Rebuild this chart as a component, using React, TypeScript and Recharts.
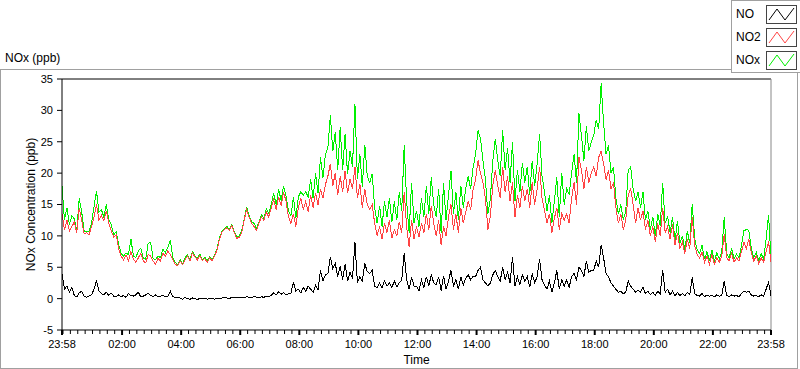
import React from 'react';
import { LineChart, Line, XAxis, YAxis, ReferenceLine } from 'recharts';

// minutes after the 23:58 start, one sample every 5 minutes
const timeTicks = [0, 122, 242, 362, 482, 602, 722, 842, 962, 1082, 1202, 1322, 1440];
const timeLabels = ['23:58', '02:00', '04:00', '06:00', '08:00', '10:00', '12:00', '14:00', '16:00', '18:00', '20:00', '22:00', '23:58'];
const yTicks = [-5, 0, 5, 10, 15, 20, 25, 30, 35];

const seriesNames = ['NO', 'NO2', 'NOx'];
const seriesColors = ['#000000', '#ff4444', '#00f000'];

const no = [
  4.0, 1.5, 2.0, 1.0, 1.8, 0.5, 0.3, 0.9, 1.2, 0.4, 0.2, 0.4,
  0.6, 1.5, 2.9, 1.2, 0.8, 0.6, 1.0, 0.5, 0.9, 0.4, 0.3, 0.6,
  0.3, 0.5, 0.2, 0.8, 0.5, 0.4, 0.6, 1.0, 0.3, 0.4, 0.6, 0.9,
  0.5, 0.3, 0.6, 0.3, 0.4, 0.5, 0.3, 0.4, 1.2, 0.3, 0.2, 0.1,
  0.1, -0.1, 0.2, 0.0, -0.1, 0.1, 0.0, -0.2, 0.1, 0.0, 0.1, -0.1,
  0.0, 0.1, -0.1, 0.1, 0.0, 0.1, 0.2, 0.1, 0.0, 0.2, 0.1, 0.1,
  0.1, 0.2, 0.1, 0.3, 0.2, 0.1, 0.4, 0.2, 0.1, 0.3, 0.2, 0.4,
  0.3, 0.5, 0.9, 0.6, 1.1, 0.7, 1.0, 0.6, 0.8, 0.9, 2.6, 1.2,
  1.5, 0.9, 1.8, 1.2, 2.0, 1.5, 1.0, 2.1, 1.4, 4.5, 2.8, 3.8,
  4.0, 6.6, 4.8, 5.6, 3.5, 5.2, 3.0, 5.5, 2.8, 4.2, 3.2, 9.0,
  2.5, 3.5, 2.8, 5.6, 4.3, 4.0, 4.5, 2.0, 1.7, 2.5, 1.7, 2.8,
  2.0, 2.5, 1.8, 2.8, 1.9, 2.5, 3.0, 7.2, 3.0, 1.5, 3.4, 2.0,
  2.0, 1.2, 3.0, 1.8, 3.5, 2.0, 3.8, 2.5, 2.2, 3.5, 1.3, 3.6,
  1.5, 2.8, 4.5, 2.0, 3.0, 1.5, 3.5, 2.2, 3.2, 3.8, 3.0, 3.6,
  3.5, 4.5, 5.0, 3.0, 2.5, 2.0, 2.5, 3.8, 4.5, 3.5, 2.8, 5.0,
  3.0, 4.2, 2.5, 6.6, 2.0, 3.5, 2.2, 3.8, 2.8, 3.5, 1.8, 4.0,
  2.5, 3.5, 6.3, 3.0, 2.2, 1.5, 2.8, 1.0, 2.5, 4.5, 1.5, 3.0,
  2.0, 3.0, 1.8, 3.5, 4.0, 3.0, 5.0, 4.5, 3.5, 6.0, 4.2, 4.5,
  4.5, 6.0, 5.0, 8.6, 6.5, 4.0, 3.5, 2.5, 2.0, 1.5, 1.0, 1.2,
  0.8, 1.0, 2.8, 2.0, 1.5, 1.0, 1.4, 1.0, 1.8, 0.8, 1.2, 0.6,
  1.0, 0.5, 1.2, 0.8, 4.6, 1.0, 1.5, 0.6, 1.2, 0.4, 1.0, 0.5,
  0.8, 0.4, 1.0, 0.6, 3.4, 0.8, 0.5, 0.4, 0.8, 0.3, 0.6, 0.4,
  0.5, 0.3, 0.6, 0.4, 0.5, 2.8, 0.5, 0.3, 0.6, 0.4, 0.5, 0.3,
  0.8, 1.2, 1.0, 1.2, 0.6, 0.4, 0.5, 0.3, 0.6, 0.4, 1.5, 2.6, 0.5,
];

const no2 = [
  13.5, 11.0, 12.5, 10.8, 11.5, 12.2, 10.5, 14.5, 12.5, 10.3, 10.5, 10.2,
  11.5, 13.0, 15.0, 12.5, 13.3, 12.4, 14.0, 12.0, 10.8, 9.8, 10.2, 8.0,
  6.8, 6.2, 7.0, 6.0, 7.5, 6.3, 5.8, 6.5, 7.2, 6.0, 5.7, 7.0,
  6.8, 6.0, 5.5, 6.4, 6.0, 7.2, 6.8, 7.6, 7.0, 6.2, 5.5, 5.2,
  6.0, 5.4, 6.2, 6.8, 6.0, 7.3, 6.6, 6.2, 6.9, 6.0, 6.4, 5.8,
  6.5, 6.0, 6.8, 7.8, 9.5, 10.6, 11.0, 11.3, 10.9, 11.6, 10.5, 9.6,
  9.8, 10.5, 12.5, 14.2, 13.0, 12.0, 11.5, 10.9, 12.0, 13.0, 12.5, 13.8,
  13.0, 14.5, 15.8, 14.2, 16.2, 14.8, 17.0, 15.5, 13.0, 12.0, 13.5, 11.5,
  14.5, 16.0, 14.2, 15.5, 13.8, 16.5, 14.5, 16.8, 15.0, 17.5, 16.0, 18.2,
  19.5, 21.5, 18.0, 20.0, 16.5, 19.5, 17.0, 20.4, 16.8, 19.0, 17.5, 21.0,
  16.0, 18.3, 14.5, 17.5, 15.0, 14.2, 15.0, 12.0, 10.0, 11.5, 9.5, 12.0,
  10.5, 12.5, 9.6, 11.0, 10.0, 12.2, 10.5, 17.0, 11.5, 8.2, 12.5, 9.5,
  11.5, 9.8, 12.0, 10.5, 13.5, 11.0, 14.8, 12.0, 10.0, 12.5, 8.5, 11.5,
  10.0, 13.0, 15.0, 11.0, 13.5, 10.5, 14.5, 12.0, 13.8, 15.5, 14.2, 17.4,
  19.0, 22.0, 20.0, 18.5, 16.0, 11.0, 13.2, 18.0, 20.5, 18.0, 16.0, 21.0,
  17.0, 19.5, 15.5, 18.5, 13.0, 16.5, 14.5, 18.0, 15.5, 17.5, 14.5, 18.5,
  15.0, 17.5, 21.0, 16.0, 14.0, 12.0, 13.5, 10.5, 12.8, 14.5, 11.0, 13.5,
  12.5, 13.5, 12.0, 16.0, 18.5, 15.0, 22.5, 20.5, 17.5, 21.0, 18.5, 20.0,
  21.0, 19.5, 22.5, 23.5, 21.5, 19.0, 20.5, 17.5, 18.5, 14.5, 12.0, 13.5,
  11.0, 12.5, 16.5, 17.5, 15.0, 12.0, 14.5, 12.5, 14.0, 11.0, 12.5, 10.0,
  11.5, 9.0, 12.0, 10.0, 14.5, 10.5, 11.5, 9.5, 11.8, 8.5, 10.5, 8.0,
  9.0, 7.2, 9.5, 8.0, 13.0, 8.5, 7.0, 6.5, 7.4, 5.8, 6.8, 5.5,
  7.0, 5.5, 6.5, 5.8, 6.8, 10.3, 6.5, 6.0, 7.2, 5.8, 6.5, 6.0,
  7.5, 9.0, 8.0, 9.5, 7.3, 6.0, 6.8, 5.6, 6.5, 5.8, 7.5, 9.1, 5.8,
];

const nox = [
  18.0, 12.5, 14.5, 11.8, 13.2, 12.7, 10.8, 16.0, 13.8, 10.7, 10.7, 10.6,
  12.1, 14.6, 17.2, 13.8, 14.2, 13.0, 15.0, 12.6, 11.8, 10.2, 10.6, 8.7,
  7.2, 6.8, 7.3, 7.0, 9.5, 6.8, 6.5, 7.6, 8.0, 6.5, 6.3, 8.8,
  9.0, 6.4, 6.2, 6.8, 6.5, 7.9, 7.3, 8.2, 9.3, 6.6, 5.8, 5.4,
  6.2, 5.5, 6.5, 7.0, 6.2, 7.5, 6.8, 6.4, 7.1, 6.2, 6.6, 6.0,
  6.7, 6.2, 7.0, 8.0, 9.7, 10.8, 11.2, 11.5, 11.0, 11.8, 10.6, 9.8,
  10.0, 10.8, 12.7, 14.6, 13.3, 12.2, 12.0, 11.2, 12.2, 13.4, 12.8, 14.3,
  13.5, 15.1, 16.8, 14.9, 17.5, 15.6, 18.0, 16.3, 14.0, 13.2, 16.2, 12.8,
  16.2, 17.0, 16.5, 17.0, 16.2, 19.0, 16.0, 20.0, 16.8, 22.5, 19.2, 23.0,
  24.0, 29.2, 23.5, 26.5, 20.5, 27.3, 20.5, 26.2, 19.8, 23.5, 21.0, 31.0,
  19.0, 23.0, 17.8, 24.5, 19.5, 18.5, 19.9, 14.5, 12.0, 14.8, 11.5, 15.5,
  13.0, 16.0, 12.2, 15.5, 12.5, 17.0, 14.0, 24.4, 15.5, 10.5, 18.5, 12.0,
  14.0, 11.5, 16.0, 13.0, 18.0, 13.5, 19.3, 15.0, 13.0, 17.5, 10.5, 18.4,
  12.5, 16.5, 20.4, 13.5, 17.0, 12.5, 18.0, 14.5, 17.5, 19.5, 17.5, 20.9,
  23.0, 26.8, 25.5, 22.0, 19.0, 13.5, 15.9, 22.0, 25.5, 22.0, 19.5, 26.8,
  20.5, 24.0, 18.5, 25.0, 15.5, 20.5, 17.0, 21.6, 18.5, 21.0, 16.5, 22.0,
  18.0, 21.5, 26.3, 19.5, 17.0, 14.0, 16.5, 12.0, 15.5, 19.3, 13.0, 20.0,
  15.0, 17.5, 16.6, 20.0, 23.0, 18.5, 29.5, 26.0, 22.0, 27.5, 23.5, 25.0,
  26.0, 28.5, 27.0, 34.3, 28.0, 23.0, 24.5, 20.0, 21.0, 16.0, 13.5, 15.0,
  12.5, 14.0, 20.5, 21.0, 17.5, 15.5, 17.0, 14.5, 17.0, 12.5, 14.0, 11.0,
  13.0, 10.0, 13.5, 11.5, 18.5, 12.0, 13.2, 10.5, 13.0, 9.2, 12.4, 8.8,
  10.0, 7.8, 10.8, 8.8, 15.1, 9.5, 7.8, 7.2, 8.5, 6.3, 7.5, 6.0,
  7.8, 6.0, 7.3, 6.3, 7.5, 13.0, 7.2, 6.5, 8.0, 6.3, 7.1, 6.5,
  8.5, 10.8, 11.0, 10.9, 8.0, 6.5, 7.4, 6.0, 7.2, 6.3, 9.5, 13.3, 6.5,
];

const data = no.map((v, i) => ({ t: i * 5, no: v, no2: no2[i], nox: nox[i] }));

// minor ticks every 15 min on the clock (00:00 is 2 min after the start), plus the labelled ones
const minorTicks: number[] = [];
for (let m = 2; m <= 1440; m += 15) if (!timeTicks.includes(m)) minorTicks.push(m);
const allTicks = [...timeTicks, ...minorTicks].sort((a, b) => a - b);

const font = '"Liberation Sans", Arial, sans-serif';

function TimeTick(props: any) {
  const { x, y, payload } = props;
  const idx = timeTicks.indexOf(payload.value);
  if (idx < 0) {
    return <line x1={x} x2={x} y1={y} y2={y + 4} stroke="#000" strokeWidth={1} />;
  }
  return (
    <g>
      <line x1={x} x2={x} y1={y} y2={y + 5} stroke="#000" strokeWidth={2} />
      <text x={x} y={y + 18} textAnchor="middle" fill="#000" fontSize={11} fontFamily={font}>
        {timeLabels[idx]}
      </text>
    </g>
  );
}

function LegendBox() {
  return (
    <div
      style={{
        position: 'absolute', left: 731, top: 0, width: 69, height: 73,
        boxSizing: 'border-box', border: '1px solid #a0a0a0', borderRight: 'none',
        background: '#fff', fontFamily: font, fontSize: 12, color: '#000',
      }}
    >
      {seriesNames.map((name, i) => (
        <div key={name} style={{ position: 'absolute', left: 0, top: 4 + i * 23, height: 18, width: 68 }}>
          <span style={{ position: 'absolute', left: 4, top: 2, lineHeight: '14px' }}>{name}</span>
          <svg width={31} height={19} style={{ position: 'absolute', left: 34, top: 0 }}>
            <rect x={0.5} y={0.5} width={30} height={18} fill="#fff" stroke="#444" />
            <polyline points="3,15 11,4 19,15 28,3" fill="none" stroke={seriesColors[i]} strokeWidth={1} />
          </svg>
        </div>
      ))}
    </div>
  );
}

export default function App() {
  return (
    <div style={{ position: 'absolute', left: 0, top: 0, width: 800, height: 369, background: '#fff', fontFamily: font }}>
      <style>{'.recharts-line-curve { shape-rendering: crispEdges; }'}</style>
      <div style={{ position: 'absolute', left: 5, top: 51, fontSize: 12, lineHeight: '15px', color: '#000' }}>NOx (ppb)</div>
      <div
        style={{
          position: 'absolute', left: 0, top: 69, width: 798, height: 300,
          boxSizing: 'border-box', border: '1px solid #a0a0a0',
        }}
      />
      <div style={{ position: 'absolute', left: 0, top: 0 }}>
        <LineChart width={800} height={369} data={data} margin={{ top: 79, right: 29, bottom: 0, left: 0 }}>
          <XAxis
            dataKey="t"
            type="number"
            domain={[0, 1440]}
            ticks={allTicks}
            interval={0}
            height={39}
            tickSize={0}
            tickMargin={0}
            axisLine={{ stroke: '#000' }}
            tickLine={false}
            tick={<TimeTick />}
            label={{ value: 'Time', position: 'insideBottom', offset: 5, fill: '#000', fontSize: 12, fontFamily: font }}
          />
          <YAxis
            type="number"
            domain={[-5, 35]}
            ticks={yTicks}
            interval={0}
            width={62}
            tickSize={5}
            tickMargin={4}
            axisLine={{ stroke: '#000' }}
            tickLine={{ stroke: '#000' }}
            tick={{ fill: '#000', fontSize: 11, fontFamily: font }}
            label={{ value: 'NOx Concentration (ppb)', angle: -90, position: 'center', fill: '#000', fontSize: 12, fontFamily: font }}
          />
          <ReferenceLine y={35} stroke="#000" />
          <ReferenceLine x={1440} stroke="#888" />
          <Line type="linear" dataKey="nox" name={seriesNames[2]} stroke={seriesColors[2]} strokeWidth={1} dot={false} isAnimationActive={false} />
          <Line type="linear" dataKey="no2" name={seriesNames[1]} stroke={seriesColors[1]} strokeWidth={1} dot={false} isAnimationActive={false} />
          <Line type="linear" dataKey="no" name={seriesNames[0]} stroke={seriesColors[0]} strokeWidth={1} dot={false} isAnimationActive={false} />
        </LineChart>
      </div>
      <LegendBox />
    </div>
  );
}
